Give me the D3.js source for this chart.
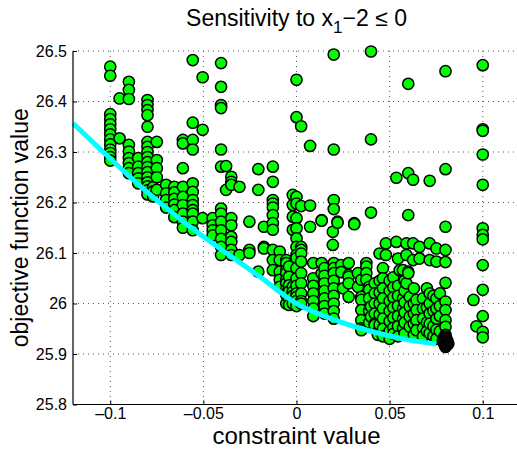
<!DOCTYPE html>
<html>
<head>
<meta charset="utf-8">
<script src="https://cdn.jsdelivr.net/npm/d3@7"></script>
<style>
  body { margin: 0; background: #fff; }
  svg { display: block; font-family: "Liberation Sans", Arial, Helvetica, sans-serif; }
</style>
</head>
<body>
<svg id="chart" width="517" height="450"></svg>
<script>
// tick values
const xTicks = [-0.1, -0.05, 0, 0.05, 0.1]
const yTicks = [25.8, 25.9, 26, 26.1, 26.2, 26.3, 26.4, 26.5]

// cyan trade-off curve
const curveX = [-0.12, -0.1, -0.08, -0.06, -0.04, -0.02, 0, 0.02, 0.04, 0.06, 0.075]
const curveY = [26.357, 26.287, 26.22, 26.16, 26.106, 26.054, 26.0, 25.968, 25.945, 25.928, 25.92]

// scatter samples, grouped by constraint value: [x, [objective values]]
const samples = [
  [-0.1, [26.469, 26.451, 26.375, 26.365, 26.355, 26.345, 26.335, 26.325, 26.315, 26.305, 26.298, 26.29, 26.283]],
  [-0.095, [26.406, 26.327]],
  [-0.09, [26.439, 26.423, 26.405, 26.314, 26.301, 26.288, 26.278, 26.268, 26.258]],
  [-0.085, [26.288, 26.271, 26.258, 26.248, 26.238]],
  [-0.08, [26.403, 26.393, 26.383, 26.373, 26.35, 26.32, 26.31, 26.3, 26.29, 26.28, 26.27, 26.26, 26.25, 26.24, 26.232, 26.224, 26.216]],
  [-0.077, [26.23, 26.222, 26.212]],
  [-0.075, [26.32, 26.284, 26.268, 26.25, 26.225]],
  [-0.07, [26.235, 26.218, 26.205, 26.19]],
  [-0.0656, [26.231, 26.22, 26.207, 26.196, 26.185, 26.171]],
  [-0.061, [26.324, 26.317, 26.268, 26.231, 26.211, 26.195, 26.178, 26.162, 26.15]],
  [-0.0557, [26.482, 26.358, 26.324, 26.305, 26.238, 26.221, 26.205, 26.195, 26.185, 26.178, 26.162, 26.145]],
  [-0.0504, [26.448, 26.344, 26.169]],
  [-0.045, [26.169, 26.155, 26.145, 26.135]],
  [-0.0405, [26.476, 26.429, 26.393, 26.387, 26.305, 26.271, 26.188, 26.178, 26.162, 26.145, 26.128, 26.112, 26.096]],
  [-0.0378, [26.272, 26.225]],
  [-0.035, [26.251, 26.241, 26.235, 26.169, 26.155, 26.132, 26.122, 26.106, 26.096]],
  [-0.0306, [26.231, 26.096]],
  [-0.0253, [26.162, 26.106, 26.1]],
  [-0.0205, [26.266, 26.225, 26.063]],
  [-0.0175, [26.152, 26.112, 26.109]],
  [-0.0127, [26.271, 26.241, 26.205, 26.198, 26.19, 26.175, 26.159, 26.146, 26.106, 26.086, 26.066]],
  [-0.009, [26.103, 26.086, 26.063, 26.047, 26.033]],
  [-0.0055, [26.086, 26.08, 26.066, 26.06, 26.047, 26.04, 26.027, 26.02, 26.017, 26.0]],
  [-0.004, [26.073, 26.053, 26.036, 26.024, 26.009, 25.997]],
  [-0.002, [26.215, 26.195, 26.172, 26.146, 26.033, 26.023, 26.015, 26.0]],
  [0, [26.443, 26.369, 26.211, 26.198, 26.169, 26.149, 26.129, 26.112, 26.096, 26.09, 26.07, 26.05, 26.035, 26.02, 26.013, 26.005, 25.995]],
  [0.0025, [26.351, 26.193, 26.112, 26.106, 26.099, 26.083, 26.06, 26.04, 26.02, 26.005, 26.0]],
  [0.0073, [26.312, 26.194, 26.152]],
  [0.009, [26.08, 26.05, 26.035, 26.02, 26.005, 25.99, 25.975]],
  [0.0135, [26.165, 26.164, 26.08, 26.06]],
  [0.015, [26.07, 26.055, 26.04, 26.025, 26.01, 25.995, 25.98]],
  [0.0195, [26.142, 26.116]],
  [0.02, [26.493, 26.305, 26.205, 26.187, 26.08, 26.07, 26.06, 26.045, 26.03, 26.015, 26.0, 25.985, 25.97]],
  [0.022, [26.162, 26.16]],
  [0.024, [26.076, 26.062]],
  [0.025, [26.03]],
  [0.028, [26.08, 26.056, 26.053, 26.04, 26.013]],
  [0.031, [26.159, 26.157]],
  [0.033, [26.06, 26.033]],
  [0.0348, [26.047, 26.013, 26.007, 25.987, 25.967, 25.951, 25.947]],
  [0.0375, [26.08, 26.073, 26.06, 26.047]],
  [0.039, [26.033, 26.027, 26.01, 25.985, 25.962]],
  [0.04, [26.499, 26.325, 26.18, 25.994, 25.974]],
  [0.042, [26.04, 26.02, 26.0, 25.98, 25.96, 25.957]],
  [0.0437, [25.944, 25.941, 25.938]],
  [0.0446, [26.099, 26.045, 26.022, 26.0, 25.978, 25.958]],
  [0.0464, [26.07, 26.05, 26.03, 26.01, 25.99, 25.97, 25.95, 25.935]],
  [0.048, [26.119, 26.096]],
  [0.05, [26.045, 26.025, 26.005, 25.985, 25.965, 25.945, 25.93]],
  [0.052, [26.052, 26.032, 26.012, 25.992, 25.972, 25.952, 25.94]],
  [0.0536, [26.249, 26.122]],
  [0.0545, [26.089, 26.035, 26.015, 25.995, 25.975, 25.955, 25.935]],
  [0.0554, [26.066]],
  [0.0572, [26.066, 26.01, 25.99, 25.97, 25.951]],
  [0.058, [26.045, 26.025, 26.002, 25.982, 25.962, 25.94]],
  [0.059, [26.119, 26.096, 26.04]],
  [0.06, [26.435, 26.258, 26.175, 26.063, 26.06]],
  [0.0608, [26.013, 25.994, 25.974, 25.954]],
  [0.0626, [26.245, 26.119, 26.086]],
  [0.063, [26.03, 26.0, 25.98, 25.96, 25.938]],
  [0.0644, [26.007, 25.987, 25.967, 25.947]],
  [0.066, [26.112, 26.089]],
  [0.0679, [26.01, 25.99, 25.97, 25.951, 25.935]],
  [0.07, [26.03, 25.992, 25.962, 25.945]],
  [0.0715, [26.243, 26.119, 26.086, 26.02, 26.0, 25.98, 25.96, 25.941]],
  [0.0735, [26.015, 25.985, 25.955, 25.935]],
  [0.0751, [26.109, 26.083, 26.01, 25.99, 25.97, 25.948, 25.93]],
  [0.077, [26.02, 25.995, 25.975, 25.945]],
  [0.08, [26.46, 26.266, 26.152, 26.106, 26.082, 26.041, 26.004, 25.987, 25.967, 25.954, 25.938]],
  [0.095, [26.007]],
  [0.0966, [25.955]],
  [0.1, [26.472, 26.345, 26.342, 26.295, 26.235, 26.149, 26.136, 26.127, 26.076, 26.027, 25.975, 25.944, 25.933]]
]

// tightly packed runs that render as a black clump at the right end of the curve
const clumpX = [0.0785, 0.0795, 0.0805, 0.0815, 0.08, 0.079, 0.081, 0.08]
const clumpY = [25.925, 25.918, 25.93, 25.92, 25.935, 25.932, 25.926, 25.914]

const svg = d3.select('#chart')
const plotLeft = 73, plotRight = 520, plotTop = 51, plotBottom = 404.5

const x = d3.scaleLinear().domain([-0.12, 0.12]).range([plotLeft, plotRight])
const y = d3.scaleLinear().domain([25.8, 26.5]).range([plotBottom, plotTop])

// dotted grid
const grid = svg.append('g')
  .attr('stroke', '#555')
  .attr('stroke-width', 1)
  .attr('stroke-dasharray', '1,4')
grid.selectAll('line.h').data(yTicks).join('line')
  .attr('class', 'h')
  .attr('x1', plotLeft).attr('x2', plotRight)
  .attr('y1', d => y(d)).attr('y2', d => y(d))
grid.selectAll('line.v').data(xTicks).join('line')
  .attr('class', 'v')
  .attr('x1', d => x(d)).attr('x2', d => x(d))
  .attr('y1', plotTop).attr('y2', plotBottom)

// scatter
const points = samples.flatMap(([cx, ys]) => ys.map(v => ({ cx, v })))
svg.append('g').selectAll('circle').data(points).join('circle')
  .attr('cx', d => x(d.cx))
  .attr('cy', d => y(d.v))
  .attr('r', 5.6)
  .attr('fill', '#00ff00')
  .attr('stroke', '#000')
  .attr('stroke-width', 1.5)

svg.append('g').selectAll('circle').data(clumpX).join('circle')
  .attr('cx', d => x(d))
  .attr('cy', (d, i) => y(clumpY[i]))
  .attr('r', 5.6)
  .attr('fill', '#050505')
  .attr('stroke', '#000')
  .attr('stroke-width', 1.5)

// cyan curve
const line = d3.line()
  .x(d => x(d[0]))
  .y(d => y(d[1]))
  .curve(d3.curveMonotoneX)
svg.append('path')
  .datum(curveX.map((v, i) => [v, curveY[i]]))
  .attr('d', line)
  .attr('fill', 'none')
  .attr('stroke', '#00ffff')
  .attr('stroke-width', 5)

// axes
const fmtX = d => d === 0 ? '0' : (d < 0 ? '\u2013' : '') + Math.abs(d)
const fmtY = d => String(+d.toFixed(1))

const xAxis = svg.append('g')
  .attr('transform', `translate(0,${plotBottom})`)
  .call(d3.axisBottom(x).tickValues(xTicks).tickSize(-4).tickPadding(3).tickFormat(fmtX))
const yAxis = svg.append('g')
  .attr('transform', `translate(${plotLeft},0)`)
  .call(d3.axisLeft(y).tickValues(yTicks).tickSize(-4).tickPadding(6).tickFormat(fmtY))

for (const ax of [xAxis, yAxis]) {
  ax.select('.domain').attr('stroke', '#000').attr('stroke-width', 1.2)
  ax.selectAll('.tick line').attr('stroke', '#000')
  ax.selectAll('.tick text')
    .attr('fill', '#000')
    .style('font-size', '16px')
    .style('font-family', '"Liberation Sans", Arial, sans-serif')
}
// box off: plain axis lines without end caps
xAxis.select('.domain').attr('d', `M${plotLeft},0H${plotRight}`)
yAxis.select('.domain').attr('d', `M0,${plotTop}V${plotBottom}`)

// title with subscript
const title = svg.append('text')
  .attr('x', (plotLeft + plotRight) / 2)
  .attr('y', 26)
  .attr('text-anchor', 'middle')
  .style('font-size', '23px')
title.append('tspan').text('Sensitivity to x')
title.append('tspan').attr('dy', 7).style('font-size', '17px').text('1')
title.append('tspan').attr('dy', -7).text('\u22122 \u2264 0')

svg.append('text')
  .attr('x', (plotLeft + plotRight) / 2)
  .attr('y', 444)
  .attr('text-anchor', 'middle')
  .style('font-size', '24px')
  .text('constraint value')

svg.append('text')
  .attr('transform', `translate(28,${(plotTop + plotBottom) / 2}) rotate(-90)`)
  .attr('text-anchor', 'middle')
  .style('font-size', '23px')
  .text('objective function value')
</script>
</body>
</html>
